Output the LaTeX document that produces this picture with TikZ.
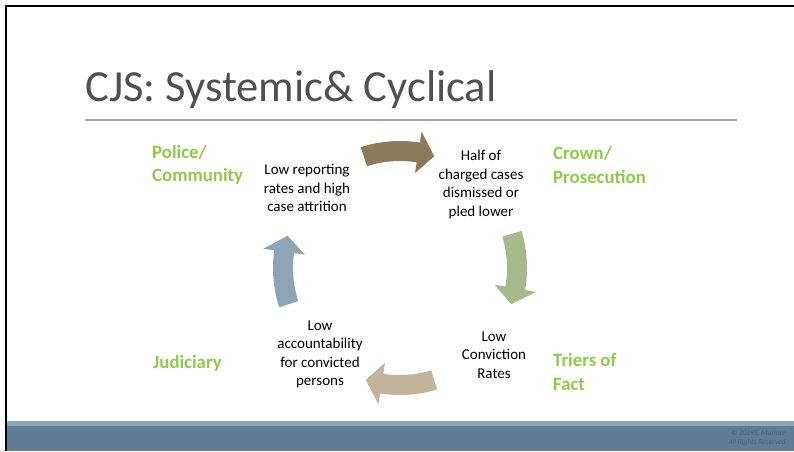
\documentclass[tikz,border=0pt]{standalone}
\usepackage{fontspec}
\setmainfont{Carlito}

\definecolor{titlegray}{HTML}{505050}
\definecolor{rulegray}{HTML}{A6A6A6}
\definecolor{actorgreen}{HTML}{8FCB48}
\definecolor{brownarrow}{HTML}{8C7A5B}
\definecolor{greenarrow}{HTML}{A6B98B}
\definecolor{tanarrow}{HTML}{C1B39C}
\definecolor{bluearrow}{HTML}{8DA4B7}
\definecolor{bandlight}{HTML}{8EA6B9}
\definecolor{banddark}{HTML}{5F7E95}
\definecolor{copygray}{HTML}{465F72}

% curved block arrow round (hub): colour, start angle, tip angle
\newcommand{\cyclearrow}[3]{%
  \pgfmathsetmacro{\headangle}{#3-8}
  \fill [#1, shift={(hub)}] (#2:107) arc [start angle=#2, end angle=\headangle, radius=107]
    -- (\headangle:96) -- (#3:117) -- (\headangle:138) -- (\headangle:127)
    arc [start angle=\headangle, end angle=#2, radius=127] -- cycle;
}

\begin{document}
\begin{tikzpicture}[
    x=1pt, y=-1pt,
    stage/.style={align=center, inner sep=0pt, font=\fontsize{15}{18.5}\selectfont},
    actor/.style={align=left, anchor=west, inner sep=0pt, text=actorgreen,
      font=\bfseries\fontsize{18.8}{23.5}\selectfont}
    ]
    \useasboundingbox (0, 0) rectangle (794, 451);

    \fill [bandlight] (5, 421) rectangle (794, 426);
    \fill [banddark] (5, 426) rectangle (794, 451);
    \draw [black, line width=1.6pt] (6, 451) -- (6, 6) -- (794, 6);

    \node (title) at (85, 101) [anchor=base west, inner sep=0pt, text=titlegray,
      font=\fontsize{44.5}{50}\selectfont] {CJS: Systemic\& Cyclical};
    \draw [rulegray, line width=1.2pt] (85, 120) -- (737, 120);

    \node (police) at (152, 165) [actor] {Police/\\Community};
    \node (crown) at (553, 165) [actor] {Crown/\\Prosecution};
    \node (triers) at (553, 372) [actor] {Triers of\\Fact};
    \node (judiciary) at (153, 363) [actor] {Judiciary};

    \node (reporting) at (307, 188) [stage] {Low reporting\\rates and high\\case attrition};
    \node (dismissed) at (481, 184.5) [stage] {Half of\\charged cases\\dismissed or\\pled lower};
    \node (conviction) at (494, 355) [stage] {Low\\Conviction\\Rates};
    \node (accountability) at (320, 354.5) [stage] {Low\\accountability\\for convicted\\persons};

    \coordinate (hub) at (400, 268);
    \cyclearrow{brownarrow}{252}{287}
    \cyclearrow{greenarrow}{343}{378}
    \cyclearrow{tanarrow}{73}{107}
    \cyclearrow{bluearrow}{162}{196}

    \node (copyright) at (786, 438) [anchor=east, align=right, inner sep=0pt, text=copygray,
      font=\itshape\fontsize{7.5}{9}\selectfont] {© 2019S. Mariner\\All Rights Reserved};
  \end{tikzpicture}
\end{document}
